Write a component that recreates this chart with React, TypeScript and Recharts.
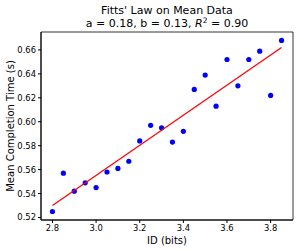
import React from 'react';
import {
  ScatterChart,
  Scatter,
  XAxis,
  YAxis,
  ReferenceArea,
} from 'recharts';

// mean data
const ids = [2.8, 2.85, 2.9, 2.95, 3.0, 3.05, 3.1, 3.15, 3.2, 3.25, 3.3, 3.35, 3.4, 3.45, 3.5, 3.55, 3.6, 3.65, 3.7, 3.75, 3.8, 3.85];
const times = [0.525, 0.557, 0.542, 0.549, 0.545, 0.558, 0.561, 0.567, 0.584, 0.597, 0.595, 0.583, 0.592, 0.627, 0.639, 0.613, 0.652, 0.630, 0.652, 0.659, 0.622, 0.668];

// fitted line end points
const fitX = [2.8, 3.85];
const fitY = [0.530, 0.662];

const xTicks = [2.8, 3.0, 3.2, 3.4, 3.6, 3.8];
const yTicks = [0.52, 0.54, 0.56, 0.58, 0.6, 0.62, 0.64, 0.66];

const xDomain = [2.7475, 3.9025];
const yDomain = [0.5179, 0.675];

const FONT = '"DejaVu Sans", sans-serif';

const points = ids.map((x, i) => ({ x, y: times[i] }));
const fit = fitX.map((x, i) => ({ x, y: fitY[i] }));

const tickStyle = { fill: '#000', fontSize: 8.4, fontFamily: FONT };

export default function App() {
  return (
    <div style={{ position: 'absolute', left: 0, top: 0, width: 299, height: 251, background: '#fff' }}>
      <ScatterChart width={299} height={251} margin={{ top: 32, right: 6, bottom: 0, left: 0 }}>
        <XAxis
          type="number"
          dataKey="x"
          domain={xDomain}
          ticks={xTicks}
          allowDataOverflow
          tickFormatter={(v: number) => v.toFixed(1)}
          tick={tickStyle}
          tickSize={3}
          height={31}
          stroke="#000"
          label={{ value: 'ID (bits)', position: 'insideBottom', offset: 7, fill: '#000', fontSize: 10, fontFamily: FONT }}
        />
        <YAxis
          type="number"
          dataKey="y"
          domain={yDomain}
          ticks={yTicks}
          allowDataOverflow
          tickFormatter={(v: number) => v.toFixed(2)}
          tick={tickStyle}
          tickSize={3}
          width={41}
          stroke="#000"
          label={{
            value: 'Mean Completion Time (s)',
            angle: -90,
            position: 'insideLeft',
            offset: 10,
            fill: '#000',
            fontSize: 10,
            fontFamily: FONT,
            style: { textAnchor: 'middle' },
          }}
        />
        <ReferenceArea
          x1={xDomain[0]}
          x2={xDomain[1]}
          y1={yDomain[0]}
          y2={yDomain[1]}
          fill="none"
          stroke="#000"
          strokeWidth={0.8}
          ifOverflow="visible"
        />
        <Scatter
          data={points}
          isAnimationActive={false}
          shape={(p: any) => <circle cx={p.cx} cy={p.cy} r={2.6} fill="#0000ff" />}
        />
        <Scatter
          data={fit}
          isAnimationActive={false}
          line={{ stroke: '#ff0000', strokeWidth: 1.25 }}
          shape={() => <g />}
        />
      </ScatterChart>
      <svg width={299} height={32} style={{ position: 'absolute', left: 0, top: 0 }}>
        <text x={167} y={13.5} textAnchor="middle" fontSize={11} fontFamily={FONT} fill="#000">
          Fitts' Law on Mean Data
        </text>
        <text x={167} y={27} textAnchor="middle" fontSize={11} fontFamily={FONT} fill="#000">
          a = 0.18, b = 0.13, <tspan fontStyle="italic">R</tspan>
          <tspan fontSize={7.5} dy={-4}>2</tspan>
          <tspan dy={4}> = 0.90</tspan>
        </text>
      </svg>
    </div>
  );
}
